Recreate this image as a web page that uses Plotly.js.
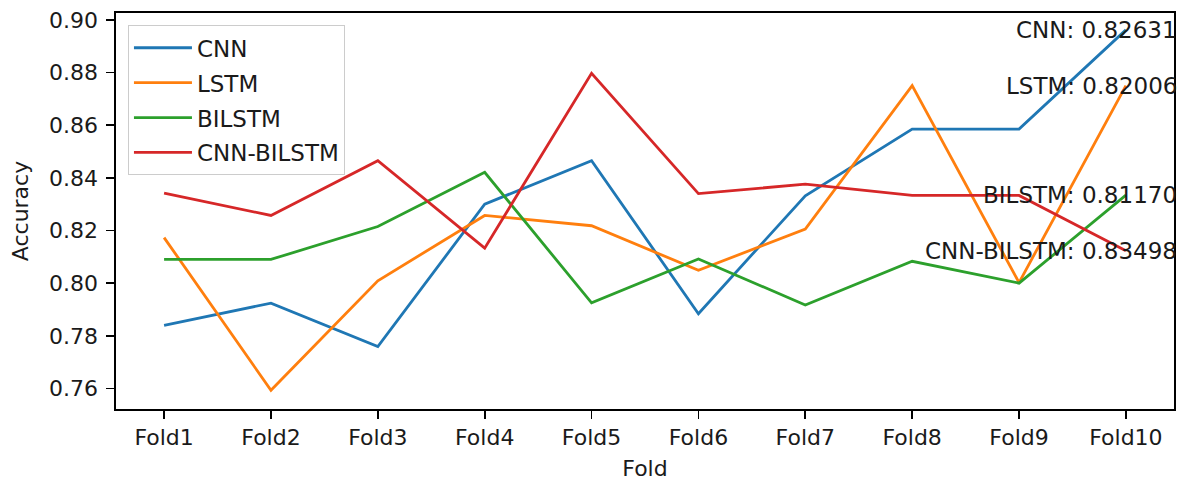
<!DOCTYPE html>
<html>
<head>
<meta charset="utf-8">
<script src="https://cdn.plot.ly/plotly-3.0.1.min.js"></script>
<style>
  html, body { margin: 0; padding: 0; background: #fff; }
  #chart { width: 1186px; height: 481px; }
</style>
</head>
<body>
<div id="chart"></div>
<script>
// Per-fold accuracy of each model
const folds = ['Fold1', 'Fold2', 'Fold3', 'Fold4', 'Fold5', 'Fold6', 'Fold7', 'Fold8', 'Fold9', 'Fold10'];

const cnnAcc       = [0.7840, 0.7924, 0.7759, 0.8300, 0.8465, 0.7884, 0.8332, 0.8585, 0.8585, 0.8962];
const lstmAcc      = [0.8173, 0.7593, 0.8009, 0.8257, 0.8218, 0.8049, 0.8205, 0.8750, 0.8002, 0.8750];
const bilstmAcc    = [0.8090, 0.8090, 0.8215, 0.8421, 0.7925, 0.8092, 0.7917, 0.8083, 0.8000, 0.8334];
const cnnBilstmAcc = [0.8342, 0.8257, 0.8465, 0.8133, 0.8797, 0.8340, 0.8376, 0.8333, 0.8333, 0.8123];

const modelNames = ['CNN', 'LSTM', 'BILSTM', 'CNN-BILSTM'];
const meanAcc    = [0.82631, 0.82006, 0.81170, 0.83498];

const yTicks = [0.76, 0.78, 0.80, 0.82, 0.84, 0.86, 0.88, 0.90];

const series = [cnnAcc, lstmAcc, bilstmAcc, cnnBilstmAcc];
const colors = ['#1f77b4', '#ff7f0e', '#2ca02c', '#d62728'];
const FONT = 'DejaVu Sans, Liberation Sans, sans-serif';
const TXT = '#1a1a1a';

const traces = series.map((vals, i) => ({
  x: folds,
  y: vals,
  type: 'scatter',
  mode: 'lines',
  name: modelNames[i],
  legendgroup: 'g' + i,
  line: { color: colors[i], width: 2.8 },
  hoverinfo: 'skip'
}));

// Mean accuracy labels, right-aligned just past the last fold at each model's final value
const lastFold = folds[folds.length - 1];
const annotations = series.map((vals, i) => ({
  x: lastFold,
  y: vals[vals.length - 1],
  xref: 'x',
  yref: 'y',
  xshift: 53,
  text: modelNames[i] + ': ' + meanAcc[i].toFixed(5),
  showarrow: false,
  xanchor: 'right',
  yanchor: 'middle',
  font: { family: FONT, size: 23, color: TXT }
}));

const axisCommon = {
  showline: true,
  linecolor: '#000',
  linewidth: 1.7,
  mirror: true,
  ticks: 'outside',
  ticklen: 8,
  tickwidth: 1.7,
  tickcolor: '#000',
  showgrid: false,
  zeroline: false,
  automargin: false,
  tickfont: { family: FONT, size: 22, color: TXT }
};

const layout = {
  width: 1186,
  height: 481,
  margin: { l: 116, r: 12, t: 13, b: 72 },
  paper_bgcolor: '#fff',
  plot_bgcolor: '#fff',
  showlegend: true,
  xaxis: Object.assign({}, axisCommon, {
    type: 'category',
    range: [-0.45, 9.45],
    title: { text: 'Fold', font: { family: FONT, size: 22, color: TXT }, standoff: 11 }
  }),
  yaxis: Object.assign({}, axisCommon, {
    range: [0.7522, 0.9026],
    tickvals: yTicks,
    ticktext: yTicks.map(v => v.toFixed(2)),
    ticklabelstandoff: 4,
    title: { text: 'Accuracy', font: { family: FONT, size: 22, color: TXT }, standoff: 14 }
  }),
  legend: {
    x: 0.0113,
    y: 0.969,
    xanchor: 'left',
    yanchor: 'top',
    bgcolor: 'rgba(255,255,255,0.8)',
    bordercolor: '#cccccc',
    borderwidth: 1,
    itemwidth: 58,
    tracegroupgap: 2,
    font: { family: FONT, size: 23, color: TXT }
  },
  annotations: annotations
};

Plotly.newPlot('chart', traces, layout, { displayModeBar: false, staticPlot: true });
</script>
</body>
</html>
